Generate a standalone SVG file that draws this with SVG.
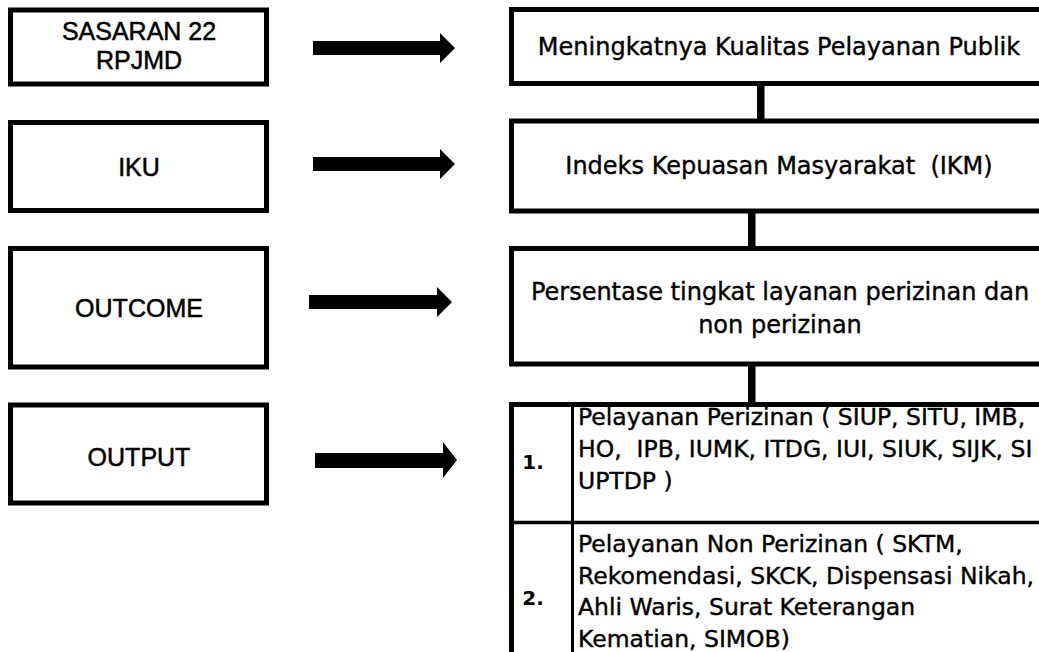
<svg xmlns="http://www.w3.org/2000/svg" width="1039" height="652" viewBox="0 0 1039 652">
<defs>
<style>
.box{fill:#fff;stroke:#000;stroke-width:5}
.lt{font-family:"Liberation Sans",Arial,sans-serif;font-size:25px;fill:#000;stroke:#000;stroke-width:0.5;text-anchor:middle}
.rt{font-family:"DejaVu Sans",sans-serif;font-size:24px;fill:#000;stroke:#000;stroke-width:0.4;text-anchor:middle}
.tt{font-family:"DejaVu Sans",sans-serif;font-size:23.5px;fill:#000;stroke:#000;stroke-width:0.4}
.num{font-family:"DejaVu Sans",sans-serif;font-size:20px;font-weight:bold;fill:#000;text-anchor:middle}
.arrow{fill:#000}
.bar{fill:#000}
.thin{stroke:#000;fill:none}
</style>
</defs>
<rect width="1039" height="652" fill="#fff"/>
<g id="connectors">
<path class="arrow" d="M313,41 H440 V33 L455,48 L440,63 V55 H313 Z"/>
<path class="arrow" d="M313,157 H440 V149 L455,164 L440,179 V171 H313 Z"/>
<path class="arrow" d="M309,295 H437 V287 L452,302 L437,317 V309 H309 Z"/>
<path class="arrow" d="M315,453 H443 V442 L457,460 L443,478 V468 H315 Z"/>
<rect class="bar" x="757" y="85" width="7.5" height="36"/>
<rect class="bar" x="748" y="211" width="7.5" height="37"/>
<rect class="bar" x="748" y="364" width="7.5" height="40"/>
</g>
<g id="sasaran">
<rect class="box" x="10.5" y="10" width="256" height="74"/>
<text class="lt" x="139" y="40">SASARAN 22</text>
<text class="lt" x="139" y="69">RPJMD</text>
</g>
<g id="iku">
<rect class="box" x="10.5" y="122.5" width="256" height="88"/>
<text class="lt" x="139" y="176">IKU</text>
</g>
<g id="outcome">
<rect class="box" x="10.5" y="248.5" width="256" height="118.5"/>
<text class="lt" x="139" y="317">OUTCOME</text>
</g>
<g id="output">
<rect class="box" x="10.5" y="405" width="256" height="98"/>
<text class="lt" x="139" y="466">OUTPUT</text>
</g>
<g id="kualitas">
<rect class="box" x="511.5" y="9.5" width="560" height="74"/>
<text class="rt" x="779" y="55">Meningkatnya Kualitas Pelayanan Publik</text>
</g>
<g id="ikm">
<rect class="box" x="511.5" y="121" width="560" height="90"/>
<text class="rt" x="779" y="174" xml:space="preserve">Indeks Kepuasan Masyarakat  (IKM)</text>
</g>
<g id="persentase">
<rect class="box" x="511.5" y="248.5" width="560" height="115.5"/>
<text class="rt" x="780" y="300">Persentase tingkat layanan perizinan dan</text>
<text class="rt" x="780" y="333">non perizinan</text>
</g>
<g id="output-table">
<rect class="box" x="511.5" y="404.5" width="560" height="270"/>
<line class="thin" x1="572.5" y1="404" x2="572.5" y2="652" stroke-width="3"/>
<line class="thin" x1="511" y1="522.5" x2="1039" y2="522.5" stroke-width="3.5"/>
<text class="num" x="533" y="469">1.</text>
<text class="tt" x="578" y="425">Pelayanan Perizinan ( SIUP, SITU, IMB,</text>
<text class="tt" x="578" y="457" xml:space="preserve">HO,  IPB, IUMK, ITDG, IUI, SIUK, SIJK, SI</text>
<text class="tt" x="578" y="489">UPTDP )</text>
<text class="num" x="533" y="605">2.</text>
<text class="tt" x="578" y="552">Pelayanan Non Perizinan ( SKTM,</text>
<text class="tt" x="578" y="584">Rekomendasi, SKCK, Dispensasi Nikah,</text>
<text class="tt" x="578" y="615">Ahli Waris, Surat Keterangan</text>
<text class="tt" x="578" y="647">Kematian, SIMOB)</text>
</g>
</svg>
